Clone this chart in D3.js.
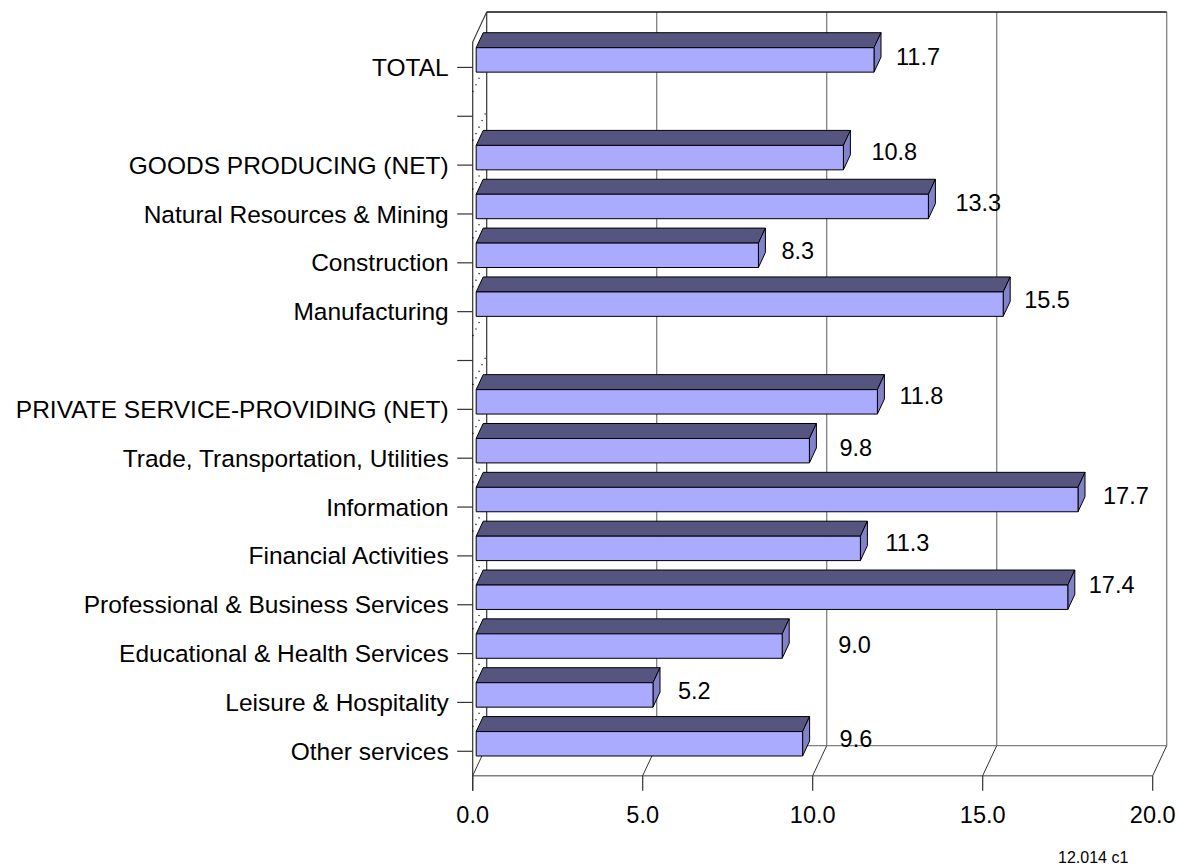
<!DOCTYPE html>
<html>
<head>
<meta charset="utf-8">
<script src="https://cdn.jsdelivr.net/npm/d3@7/dist/d3.min.js"></script>
<style>
  html, body { margin: 0; padding: 0; background: #fff; }
  svg { display: block; font-family: "Liberation Sans", Arial, Helvetica, sans-serif; }
</style>
</head>
<body>
<svg id="chart" width="1179" height="866"></svg>
<script>
// Employment change by industry (percent); empty rows separate the groups
const categories = [
  "TOTAL", "",
  "GOODS PRODUCING (NET)", "Natural Resources & Mining", "Construction", "Manufacturing", "",
  "PRIVATE SERVICE-PROVIDING (NET)", "Trade, Transportation, Utilities", "Information",
  "Financial Activities", "Professional & Business Services", "Educational & Health Services",
  "Leisure & Hospitality", "Other services"
];
const values = [11.7, null, 10.8, 13.3, 8.3, 15.5, null, 11.8, 9.8, 17.7, 11.3, 17.4, 9.0, 5.2, 9.6];
const xTicks = [0, 5, 10, 15, 20];
const sourceNote = "12.014 c1";

// Hand placement tweaks for the value labels (pixels)
const labelNudgeX = [1, 0, 7, 6, 2, 0, 0, 1, 9, 4, 4, 0, 35, 4, 16];
const labelNudgeY = [1, 0, -2, 0, -1, 0, 0, -2, 1, 0, -2, -8, 3, 0, -1];

const svg = d3.select("#chart");

// Front plane geometry and the depth offset of the 3-D box
const frontLeft = 472.7, frontRight = 1152.7;
const frontTop = 43, frontBottom = 775.7;
const depthX = 14, depthY = -30;

const x = d3.scaleLinear().domain([0, 20]).range([frontLeft, frontRight]);
const y = d3.scaleBand()
  .domain(d3.range(categories.length))
  .range([frontTop, frontBottom])
  .paddingInner(0.5)
  .paddingOuter(0.25);
const step = y.step();

// project a point on the front plane back by a fraction of the box depth
const P = (px, py, d) => [px + depthX * d, py + depthY * d];
const pts = arr => arr.map(p => p.join(",")).join(" ");

const gridColor = "#808080";
const backLeft = frontLeft + depthX, backBottom = frontBottom + depthY, backTop = 12;

// back wall: gridlines at each tick
const g = svg.append("g");
g.selectAll("line.grid").data(xTicks.slice(1)).join("line")
  .attr("x1", d => x(d) + depthX).attr("x2", d => x(d) + depthX)
  .attr("y1", backTop).attr("y2", backBottom)
  .attr("stroke", gridColor).attr("stroke-width", 1.3);
// back wall left edge and top edge
g.append("line").attr("x1", backLeft).attr("x2", backLeft)
  .attr("y1", backTop).attr("y2", backBottom).attr("stroke", "#333").attr("stroke-width", 1.2);
g.append("line").attr("x1", backLeft).attr("x2", x(20) + depthX)
  .attr("y1", backTop).attr("y2", backTop).attr("stroke", "#111").attr("stroke-width", 1.3);

// floor: back edge, front edge, depth lines at each tick
g.append("line").attr("x1", backLeft).attr("x2", x(20) + depthX)
  .attr("y1", backBottom).attr("y2", backBottom).attr("stroke", gridColor).attr("stroke-width", 1.3);
g.append("line").attr("x1", frontLeft).attr("x2", frontRight)
  .attr("y1", frontBottom).attr("y2", frontBottom).attr("stroke", gridColor).attr("stroke-width", 1.5);
g.selectAll("line.floorDepth").data(xTicks).join("line")
  .attr("x1", d => x(d)).attr("y1", frontBottom)
  .attr("x2", d => x(d) + depthX).attr("y2", backBottom)
  .attr("stroke", "#333").attr("stroke-width", 1);
// tick marks below the floor
g.selectAll("line.xtick").data(xTicks).join("line")
  .attr("x1", d => x(d)).attr("x2", d => x(d))
  .attr("y1", frontBottom).attr("y2", frontBottom + 15)
  .attr("stroke", "#333").attr("stroke-width", 1.2);

// left wall: top diagonal and front vertical edge
g.append("line").attr("x1", frontLeft).attr("y1", frontTop - 1)
  .attr("x2", backLeft).attr("y2", backTop).attr("stroke", "#333").attr("stroke-width", 1.1);
g.append("line").attr("x1", frontLeft).attr("x2", frontLeft)
  .attr("y1", frontTop - 1).attr("y2", frontBottom + 15).attr("stroke", "#333").attr("stroke-width", 1.2);

// dotted depth lines on the left wall between rows
g.selectAll("line.wallDepth").data(d3.range(categories.length - 1)).join("line")
  .attr("x1", frontLeft).attr("y1", i => y(i) + y.bandwidth() + step * 0.25)
  .attr("x2", backLeft).attr("y2", i => y(i) + y.bandwidth() + step * 0.25 + depthY)
  .attr("stroke", "#000").attr("stroke-width", 1.2).attr("stroke-dasharray", "1.2,6");

// category ticks and labels
const rows = categories.map((c, i) => ({ c, i, v: values[i] }));
g.selectAll("line.ytick").data(rows).join("line")
  .attr("x1", frontLeft - 15.5).attr("x2", frontLeft)
  .attr("y1", d => y(d.i) + y.bandwidth() / 2).attr("y2", d => y(d.i) + y.bandwidth() / 2)
  .attr("stroke", "#333").attr("stroke-width", 1.2);
g.selectAll("text.cat").data(rows.filter(d => d.c)).join("text")
  .attr("x", frontLeft - 24).attr("y", d => y(d.i) + y.bandwidth() / 2)
  .attr("dy", "0.35em").attr("text-anchor", "end")
  .attr("font-size", 24.5).attr("fill", "#000")
  .text(d => d.c);

// bars: front face at 1/4 depth, back at 3/4 depth
const faceFront = "#AAAAFF", faceTop = "#555580", faceSide = "#8282C8";
const d0 = 0.25, d1 = 0.75;
const bars = g.selectAll("g.bar").data(rows.filter(d => d.v != null)).join("g");
bars.each(function (d) {
  const sel = d3.select(this);
  const yt = y(d.i), yb = y(d.i) + y.bandwidth();
  const xs = x(0), xe = x(d.v);
  const fTL = P(xs, yt, d0), fTR = P(xe, yt, d0), fBR = P(xe, yb, d0), fBL = P(xs, yb, d0);
  const bTL = P(xs, yt, d1), bTR = P(xe, yt, d1), bBR = P(xe, yb, d1);
  sel.append("polygon").attr("points", pts([fTL, bTL, bTR, fTR]))
    .attr("fill", faceTop).attr("stroke", "#000").attr("stroke-width", 1).attr("stroke-linejoin", "round");
  sel.append("polygon").attr("points", pts([fTR, bTR, bBR, fBR]))
    .attr("fill", faceSide).attr("stroke", "#000").attr("stroke-width", 1).attr("stroke-linejoin", "round");
  sel.append("polygon").attr("points", pts([fTL, fTR, fBR, fBL]))
    .attr("fill", faceFront).attr("stroke", "#000").attr("stroke-width", 1).attr("stroke-linejoin", "round");
});

// value labels
g.selectAll("text.val").data(rows.filter(d => d.v != null)).join("text")
  .attr("x", d => P(x(d.v), 0, d0)[0] + 21 + labelNudgeX[d.i])
  .attr("y", d => y(d.i) + y.bandwidth() / 2 + depthY * d0 - 4 + labelNudgeY[d.i])
  .attr("dy", "0.35em")
  .attr("font-size", 23.5).attr("fill", "#000")
  .text(d => d3.format(".1f")(d.v));

// x-axis labels
g.selectAll("text.xlab").data(xTicks).join("text")
  .attr("x", d => x(d)).attr("y", 815).attr("dy", "0.35em")
  .attr("text-anchor", "middle").attr("font-size", 23.5).attr("fill", "#000")
  .text(d => d3.format(".1f")(d));

// source note
g.append("text").attr("x", 1058).attr("y", 857).attr("dy", "0.35em")
  .attr("font-size", 16).attr("fill", "#000").text(sourceNote);
</script>
</body>
</html>
